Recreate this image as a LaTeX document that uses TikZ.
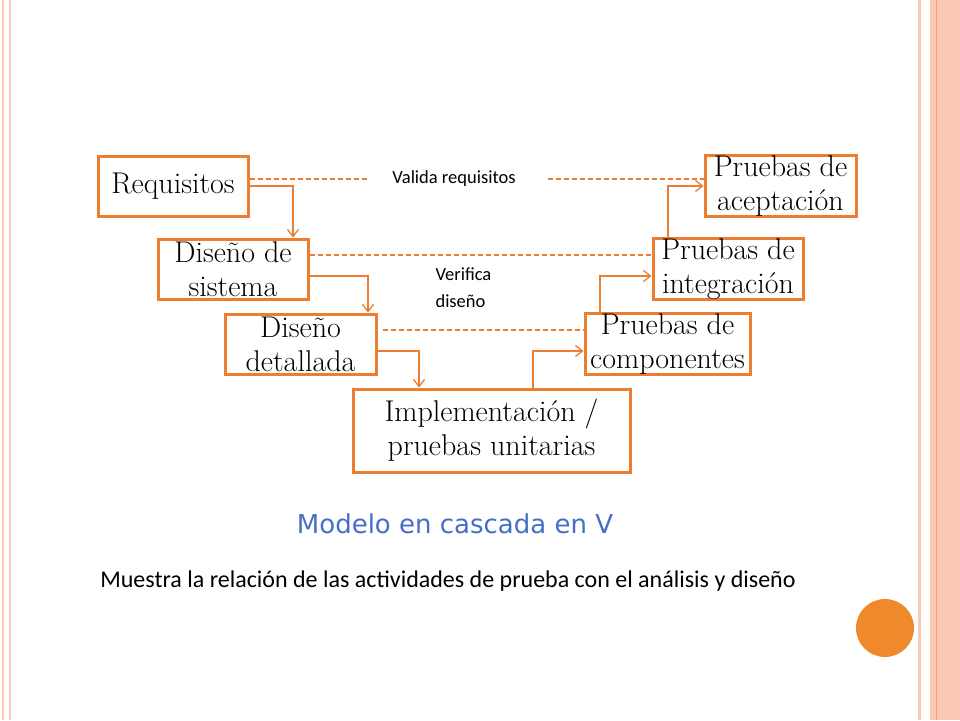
\documentclass[tikz,border=0pt]{standalone}
\usepackage{fontspec}
\setmainfont{Latin Modern Roman}
\newfontfamily\calib{Carlito}
\newfontfamily\handf{DejaVu Sans}
\usetikzlibrary{arrows.meta}
\definecolor{org}{RGB}{237,125,49}
\definecolor{pinkb}{RGB}{250,200,180}
\definecolor{ttl}{RGB}{70,110,200}
\begin{document}
\begin{tikzpicture}[x=1pt,y=-1pt,
  box/.style={draw=org,line width=3pt,fill=white,align=center,font=\fontsize{30}{34}\selectfont,inner sep=0pt},
  conn/.style={draw=org,line width=1.3pt,-{Straight Barb[length=7pt,width=11pt]}},
  dsh/.style={draw=org,line width=1.1pt,dash pattern=on 5pt off 3pt},
  lbl/.style={font=\calib\fontsize{18.5}{27}\selectfont,align=left}]
\useasboundingbox (0,0) rectangle (960,720);
\fill[white] (0,0) rectangle (960,720);
\fill[pinkb] (2,0) rectangle (4,720);
\fill[pinkb] (9,0) rectangle (11,720);
\fill[pinkb] (918,0) rectangle (921,720);
\fill[pinkb] (930,0) rectangle (960,720);
\draw[org!70,line width=1pt] (936,0) -- (936,720);
% boxes
\node[box,minimum width=150,minimum height=60] (req) at (173,186) {Requisitos};
\node[box,minimum width=150,minimum height=60] (sis) at (233,269) {Diseño de\\sistema};
\node[box,minimum width=151,minimum height=60] (det) at (300.5,344) {Diseño\\detallada};
\node[box,minimum width=277,minimum height=83] (imp) at (491.5,430.5) {Implementación /\\pruebas unitarias};
\node[box,minimum width=165,minimum height=60] (com) at (667.5,344) {Pruebas de\\componentes};
\node[box,minimum width=150,minimum height=60] (int) at (728,269) {Pruebas de\\integración};
\node[box,minimum width=151,minimum height=60] (ace) at (780.5,186) {Pruebas de\\aceptación};
% coordinates
\coordinate (c1) at (293,186);
\coordinate (c2) at (368,276);
\coordinate (c3) at (419,351);
\coordinate (c4) at (533,351);
\coordinate (c5) at (600,276);
\coordinate (c6) at (668,186);
\draw[conn] (req.east |- c1) -- (c1) -- (c1 |- sis.north);
\draw[conn] (sis.east |- c2) -- (c2) -- (c2 |- det.north);
\draw[conn] (det.east |- c3) -- (c3) -- (c3 |- imp.north);
\draw[conn] (c4 |- imp.north) -- (c4) -- (c4 -| com.west);
\draw[conn] (c5 |- com.north) -- (c5) -- (c5 -| int.west);
\draw[conn] (c6 |- int.north) -- (c6) -- (c6 -| ace.west);
% dashed
\coordinate (d1) at (368,179);
\coordinate (d2) at (548,179);
\coordinate (d3) at (383,330);
\draw[dsh] (req.east |- d1) -- (d1);
\draw[dsh] (d2) -- (d2 -| ace.west);
\draw[dsh] (sis.east |- 0,255) -- (int.west |- 0,255);
\draw[dsh] (d3) -- (d3 -| com.west);
\node[lbl,anchor=center] (val) at (454,179) {Valida requisitos};
\node[lbl,anchor=west] (ver) at (432,288) {Verifica\\diseño};
\node[font=\handf\fontsize{26}{30}\selectfont,text=ttl] (tit) at (455,524) {Modelo en cascada en V};
\node[font=\calib\fontsize{24}{28}\selectfont] (sub) at (448,581) {Muestra la relación de las actividades de prueba con el análisis y diseño};
\fill[org!90!yellow] (885,628) circle (29);
\end{tikzpicture}
\end{document}
